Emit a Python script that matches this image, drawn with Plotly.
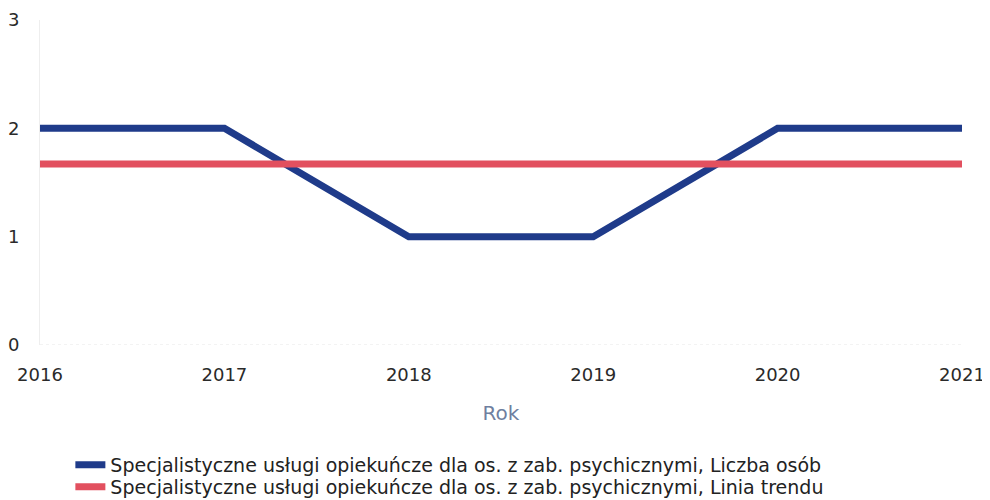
import plotly.graph_objects as go

years = [2016, 2017, 2018, 2019, 2020, 2021]
liczba_osob = [2, 2, 1, 1, 2, 2]
linia_trendu = [1.67, 1.67, 1.67, 1.67, 1.67, 1.67]

name_osob = "Specjalistyczne usługi opiekuńcze dla os. z zab. psychicznymi, Liczba osób"
name_trend = "Specjalistyczne usługi opiekuńcze dla os. z zab. psychicznymi, Linia trendu"

fig = go.Figure()
fig.add_trace(go.Scatter(x=years, y=liczba_osob, mode="lines", name=name_osob,
                         line=dict(color="#1f3b8a", width=7), legend="legend"))
fig.add_trace(go.Scatter(x=years, y=linia_trendu, mode="lines", name=name_trend,
                         line=dict(color="#e2505f", width=7), legend="legend2"))

# two single-row legends so the row spacing can match the original
leg = dict(orientation="v", xref="container", yref="container",
           x=0.063, xanchor="left", yanchor="middle",
           font=dict(size=19, color="#222222"), itemwidth=30,
           bgcolor="rgba(0,0,0,0)")

fig.update_layout(
    width=990, height=500,
    margin=dict(l=32, r=36, t=12, b=163, autoexpand=False),
    paper_bgcolor="white", plot_bgcolor="white",
    font=dict(family="DejaVu Sans", size=18, color="#2a2a2a"),
    showlegend=True,
    legend=dict(leg, y=0.086),
    legend2=dict(leg, y=0.042),
    xaxis=dict(range=[2016, 2021], tickvals=years, showgrid=False, zeroline=False,
               showline=False, ticks="", ticklabelstandoff=17,
               title=dict(text="Rok", font=dict(size=20, color="#6f7fa0"), standoff=21)),
    yaxis=dict(range=[0, 3], tickvals=[0, 1, 2, 3], showgrid=False, zeroline=False,
               showline=True, linecolor="#eeeeee", linewidth=1, ticks="",
               ticklabelstandoff=16),
)
fig.add_hline(y=0, line=dict(color="#e6e6e6", width=1, dash="dot"))

fig.write_html("out.html")
